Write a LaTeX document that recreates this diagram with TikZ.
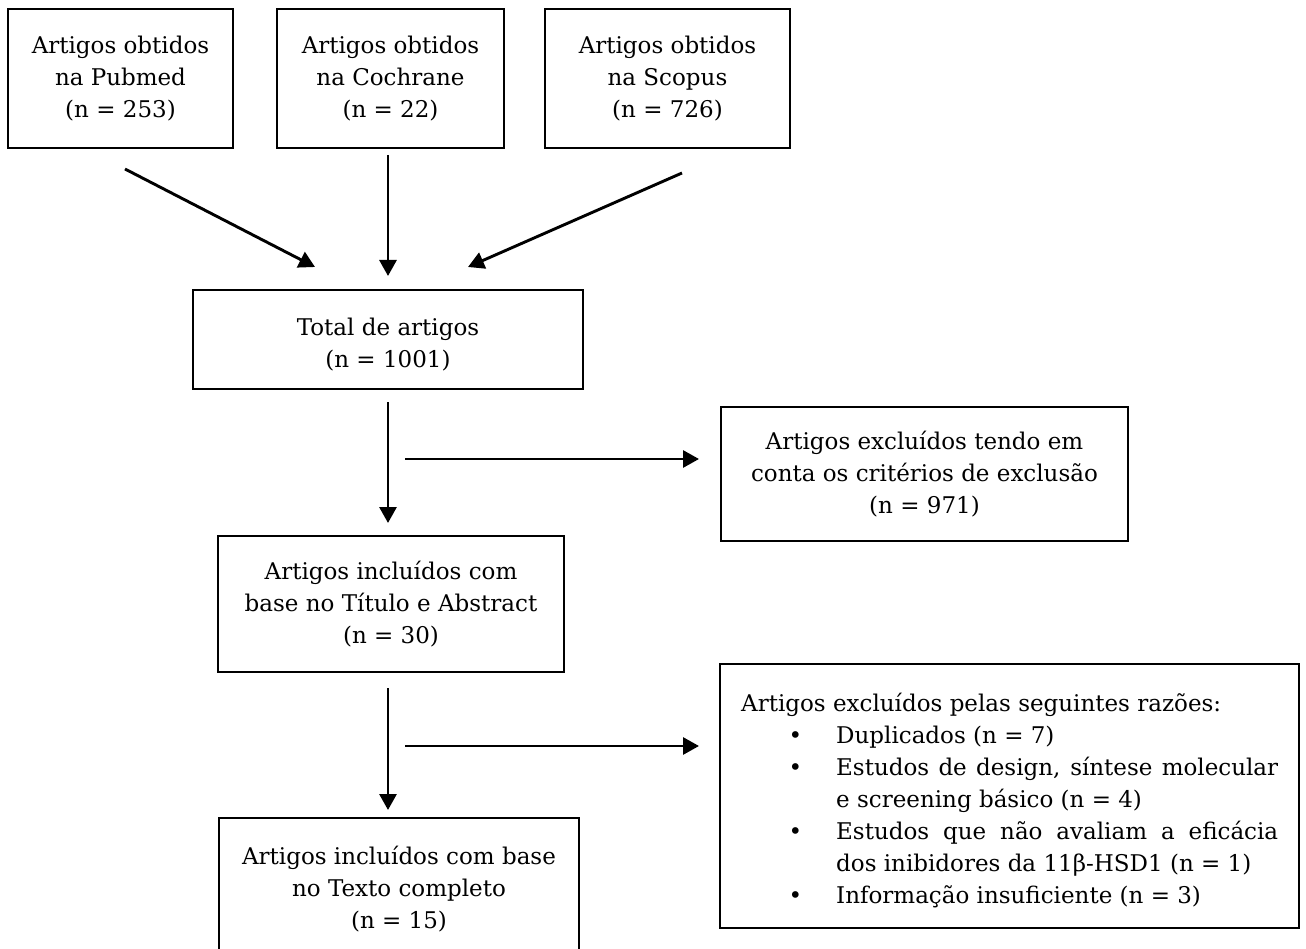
\documentclass[tikz,border=0pt]{standalone}
\usepackage{fontspec}
\setmainfont{DejaVu Serif}
\usetikzlibrary{arrows.meta}
\begin{document}
\begin{tikzpicture}[x=1pt,y=-1pt,
  box/.style={draw=black, line width=2pt, inner sep=0pt, align=center,
    font=\fontsize{23}{32}\selectfont},
  arr/.style={line width=2.9pt, -{Triangle[length=16pt,width=17pt]}}]
\useasboundingbox (0,0) rectangle (1306,949);
\clip (0,0) rectangle (1306,949);

\node[box, minimum width=225pt, minimum height=139pt] (pub) at (120.5,78.5)
  {Artigos obtidos\\na Pubmed\\(n = 253)};
\node[box, minimum width=227pt, minimum height=139pt] (coch) at (390.5,78.5)
  {Artigos obtidos\\na Cochrane\\(n = 22)};
\node[box, minimum width=245pt, minimum height=139pt] (scop) at (667.5,78.5)
  {Artigos obtidos\\na Scopus\\(n = 726)};

\node[box, minimum width=390pt, minimum height=99pt, text height=59pt] (total) at (388,339.5)
  {Total de artigos\\(n = 1001)};

\node[box, minimum width=407pt, minimum height=134pt] (exc1) at (924.5,474)
  {Artigos excluídos tendo em\\conta os critérios de exclusão\\(n = 971)};

\node[box, minimum width=346pt, minimum height=136pt] (inc1) at (391,604)
  {Artigos incluídos com\\base no Título e Abstract\\(n = 30)};

\node[box, minimum width=360pt, minimum height=142pt] (inc2) at (399,889)
  {Artigos incluídos com base\\no Texto completo\\(n = 15)};

\node[draw=black, line width=2pt, minimum width=579pt, minimum height=264pt, inner sep=0pt] (exc2) at (1009.5,796) {};
\node[anchor=north west, inner sep=0pt, text width=537pt, align=justify,
  font=\fontsize{23}{32}\selectfont] (exc2t) at (741,693)
  {Artigos excluídos pelas seguintes razões:\par
   \leftskip=95pt
   \noindent\llap{\textbullet\hskip 34pt}Duplicados (n = 7)\par
   \noindent\llap{\textbullet\hskip 34pt}Estudos de design, síntese molecular\linebreak e screening básico (n = 4)\par
   \noindent\llap{\textbullet\hskip 34pt}Estudos que não avaliam a eficácia\linebreak dos inibidores da 11β-HSD1 (n = 1)\par
   \noindent\llap{\textbullet\hskip 34pt}Informação insuficiente (n = 3)\par};

\coordinate (s1) at (125,169);  \coordinate (e1) at (315,267);
\coordinate (s2) at (388,155);  \coordinate (e2) at (388,276);
\coordinate (s3) at (682,173);  \coordinate (e3) at (468,267);
\coordinate (s4) at (388,402);  \coordinate (e4) at (388,523);
\coordinate (s5) at (405,459);  \coordinate (e5) at (699,459);
\coordinate (s6) at (388,688);  \coordinate (e6) at (388,810);
\coordinate (s7) at (405,746);  \coordinate (e7) at (699,746);

\draw[arr] (s1) -- (e1);
\draw[arr] (s2) -- (e2);
\draw[arr] (s3) -- (e3);
\draw[arr] (s4) -- (e4);
\draw[arr] (s5) -- (e5);
\draw[arr] (s6) -- (e6);
\draw[arr] (s7) -- (e7);
\end{tikzpicture}
\end{document}
